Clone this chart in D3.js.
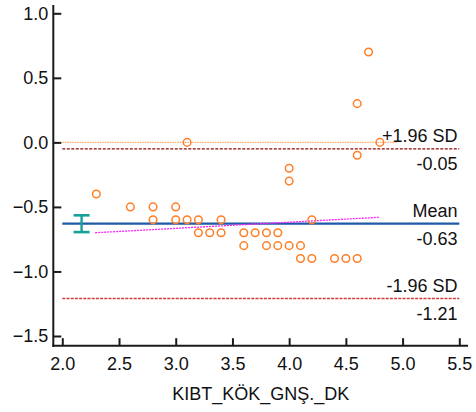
<!DOCTYPE html>
<html>
<head>
<meta charset="utf-8">
<script src="https://cdn.jsdelivr.net/npm/d3@7"></script>
<style>
  html, body { margin: 0; padding: 0; background: #fff; }
  svg { display: block; }
  text { font-family: "Liberation Sans", Arial, sans-serif; }
</style>
</head>
<body>
<div id="chart"></div>
<script>
// ---- data ----
const xValues = [2.3, 2.6, 2.8, 3.0, 2.8, 3.0, 3.1, 3.2, 3.4, 4.2,
                 3.2, 3.3, 3.4, 3.6, 3.7, 3.8, 3.9,
                 3.6, 3.8, 3.9, 4.0, 4.1,
                 4.1, 4.2, 4.4, 4.5, 4.6,
                 3.1, 4.0, 4.0, 4.6, 4.8, 4.6, 4.7];
const yValues = [-0.4, -0.5, -0.5, -0.5, -0.6, -0.6, -0.6, -0.6, -0.6, -0.6,
                 -0.7, -0.7, -0.7, -0.7, -0.7, -0.7, -0.7,
                 -0.8, -0.8, -0.8, -0.8, -0.8,
                 -0.9, -0.9, -0.9, -0.9, -0.9,
                 0.0, -0.2, -0.3, -0.1, 0.0, 0.3, 0.7];
const meanDiff = -0.63;
const upperLoA = -0.05;
const lowerLoA = -1.21;
const meanCI = [-0.565, -0.695];
const meanCIx = 2.17;
const zeroLine = [2.0, 4.95];
const regressionX = [2.29, 4.80];
const regressionY = [-0.70, -0.58];
const xTicks = [2.0, 2.5, 3.0, 3.5, 4.0, 4.5, 5.0, 5.5];
const yTicks = [1.0, 0.5, 0.0, -0.5, -1.0, -1.5];
const xTitle = "KIBT_KÖK_GNŞ._DK";

// ---- layout ----
const W = 476, H = 412;
const svg = d3.select("#chart").append("svg").attr("width", W).attr("height", H);

const x = d3.scaleLinear().domain([2.0, 5.5]).range([62.3, 459.3]);
const y = d3.scaleLinear().domain([-1.5, 1.0]).range([336, 13.3]);

const axisX = 53.3, axisY = 345.7;
const fmt = d3.format(".1f");

// axes lines
svg.append("line").attr("x1", axisX).attr("x2", axisX).attr("y1", 5).attr("y2", axisY + 1)
  .attr("stroke", "#1a1a1a").attr("stroke-width", 2);
svg.append("line").attr("x1", axisX - 1).attr("x2", 468).attr("y1", axisY).attr("y2", axisY)
  .attr("stroke", "#1a1a1a").attr("stroke-width", 2);

const gy = svg.append("g").attr("transform", `translate(${axisX},0)`)
  .call(d3.axisLeft(y).tickValues(yTicks).tickFormat(fmt).tickSize(-8).tickPadding(5));
gy.select(".domain").remove();
gy.selectAll(".tick line").attr("stroke", "#1a1a1a").attr("stroke-width", 2);
gy.selectAll(".tick text").attr("font-size", 18).attr("fill", "#111")
  .attr("font-family", "'Liberation Sans', Arial, sans-serif");

const gx = svg.append("g").attr("transform", `translate(0,${axisY})`)
  .call(d3.axisBottom(x).tickValues(xTicks).tickFormat(fmt).tickSize(-7.5).tickPadding(12));
gx.select(".domain").remove();
gx.selectAll(".tick line").attr("stroke", "#1a1a1a").attr("stroke-width", 2);
gx.selectAll(".tick text").attr("font-size", 18).attr("fill", "#111")
  .attr("font-family", "'Liberation Sans', Arial, sans-serif");

svg.append("text").attr("x", (x(2.0) + x(5.5)) / 2).attr("y", 400)
  .attr("text-anchor", "middle").attr("font-size", 18).attr("fill", "#111")
  .text(xTitle);

// zero line (orange dotted)
svg.append("line").attr("x1", x(zeroLine[0])).attr("x2", x(zeroLine[1]))
  .attr("y1", y(0)).attr("y2", y(0))
  .attr("stroke", "#ffa566").attr("stroke-width", 1.2).attr("stroke-dasharray", "1.5,1");

// limits of agreement
svg.append("line").attr("x1", x(2.0)).attr("x2", x(5.5))
  .attr("y1", y(upperLoA)).attr("y2", y(upperLoA))
  .attr("stroke", "#8b0a0a").attr("stroke-width", 1.2).attr("stroke-dasharray", "3,1.5");
svg.append("line").attr("x1", x(2.0)).attr("x2", x(5.5))
  .attr("y1", y(lowerLoA)).attr("y2", y(lowerLoA))
  .attr("stroke", "#d23c3c").attr("stroke-width", 1.4).attr("stroke-dasharray", "3,1.2");

// mean line
svg.append("line").attr("x1", x(2.0)).attr("x2", x(5.5))
  .attr("y1", y(meanDiff)).attr("y2", y(meanDiff))
  .attr("stroke", "#1f5aa6").attr("stroke-width", 2.2);

// regression line
svg.append("line").attr("x1", x(regressionX[0])).attr("x2", x(regressionX[1]))
  .attr("y1", y(regressionY[0])).attr("y2", y(regressionY[1]))
  .attr("stroke", "#ff22ff").attr("stroke-width", 1.3).attr("stroke-dasharray", "2,1");

// CI of mean
const ci = svg.append("g").attr("stroke", "#17a09a").attr("stroke-width", 2.4);
ci.append("line").attr("x1", x(meanCIx)).attr("x2", x(meanCIx)).attr("y1", y(meanCI[0])).attr("y2", y(meanCI[1]));
meanCI.forEach(v => {
  ci.append("line").attr("x1", x(meanCIx) - 8).attr("x2", x(meanCIx) + 8)
    .attr("y1", y(v)).attr("y2", y(v)).attr("stroke-width", 2.6);
});

// points
svg.append("g").selectAll("circle").data(xValues.map((d, i) => [d, yValues[i]]))
  .join("circle")
  .attr("cx", d => x(d[0])).attr("cy", d => y(d[1])).attr("r", 3.8)
  .attr("fill", "none").attr("stroke", "#ff7f27").attr("stroke-width", 1.5);

// labels
const labelX = 457.5;
function label(txt, yy) {
  svg.append("text").attr("x", labelX).attr("y", yy).attr("text-anchor", "end")
    .attr("font-size", 18).attr("fill", "#111").text(txt);
}
label("+1.96 SD", y(upperLoA) - 7);
label(upperLoA.toFixed(2), y(upperLoA) + 21);
label("Mean", y(meanDiff) - 7);
label(meanDiff.toFixed(2), y(meanDiff) + 21);
label("-1.96 SD", y(lowerLoA) - 7);
label(lowerLoA.toFixed(2), y(lowerLoA) + 21);
</script>
</body>
</html>
